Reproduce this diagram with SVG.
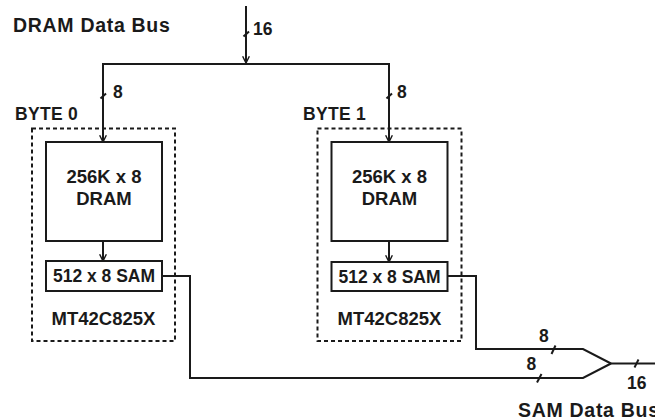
<svg xmlns="http://www.w3.org/2000/svg" width="655" height="420" viewBox="0 0 655 420">
  <defs>
    <marker id="arrow" viewBox="0 0 10 10" refX="9.5" refY="5" markerWidth="8" markerHeight="8" markerUnits="userSpaceOnUse" orient="auto">
      <path d="M1,0.8 L9.5,5 L1,9.2" fill="none" stroke="#1a1a1a" stroke-width="1.8"/>
    </marker>
    <style>
      .ln { fill: none; stroke: #1a1a1a; stroke-width: 2; }
      .tick { fill: none; stroke: #1a1a1a; stroke-width: 2; }
      .box { fill: #ffffff; stroke: #1a1a1a; stroke-width: 2; }
      .dash { fill: none; stroke: #1a1a1a; stroke-width: 2; stroke-dasharray: 4 3; }
      .t { font-family: "Liberation Sans", Arial, sans-serif; font-weight: bold; fill: #1a1a1a; }
      .big { font-size: 19.5px; letter-spacing: 0.7px; }
      .blk { font-size: 18.5px; text-anchor: middle; }
      .lbl { font-size: 17.5px; letter-spacing: 0.3px; }
      .num { font-size: 17.5px; }
    </style>
  </defs>
  <rect width="655" height="420" fill="#ffffff"/>

  <text class="t big" x="13" y="32">DRAM Data Bus</text>
  <text class="t big" x="518" y="417">SAM Data Bus</text>

  <g id="connectors">
    <line class="ln" x1="246" y1="6" x2="246" y2="63" marker-end="url(#arrow)"/>
    <line class="ln" x1="103" y1="64" x2="389" y2="64"/>
    <line class="ln" x1="103" y1="63" x2="103" y2="142" marker-end="url(#arrow)"/>
    <line class="ln" x1="389" y1="63" x2="389" y2="142" marker-end="url(#arrow)"/>
    <line class="ln" x1="103" y1="241" x2="103" y2="261" marker-end="url(#arrow)"/>
    <line class="ln" x1="389" y1="241" x2="389" y2="262" marker-end="url(#arrow)"/>
    <path class="ln" d="M162,276 H190 V378 H583 L611,363.5"/>
    <path class="ln" d="M447.5,276 H476 V349 H583 L611,363.5"/>
    <line class="ln" x1="611" y1="363.5" x2="655" y2="363.5"/>
    <!-- bus width ticks -->
    <line class="tick" x1="243.5" y1="36.5" x2="249" y2="31.5"/>
    <line class="tick" x1="100.5" y1="98.5" x2="106" y2="93.5"/>
    <line class="tick" x1="386.5" y1="98.5" x2="392" y2="93.5"/>
    <line class="tick" x1="551.5" y1="354" x2="555.5" y2="345.5"/>
    <line class="tick" x1="537" y1="382.5" x2="541.5" y2="374"/>
    <line class="tick" x1="634.5" y1="367.5" x2="638.5" y2="359.5"/>
    <text class="t num" x="253" y="35">16</text>
    <text class="t num" x="113" y="98">8</text>
    <text class="t num" x="397" y="98">8</text>
    <text class="t num" x="539" y="342">8</text>
    <text class="t num" x="526.5" y="370">8</text>
    <text class="t num" x="627" y="389">16</text>
  </g>

  <g id="byte0">
    <rect class="dash" x="32" y="128.5" width="143" height="212.5"/>
    <text class="t lbl" x="15" y="120">BYTE 0</text>
    <g id="dram0">
      <rect class="box" x="46" y="142" width="116" height="99"/>
      <text class="t blk" x="104" y="183">256K x 8</text>
      <text class="t blk" x="104" y="205">DRAM</text>
    </g>
    <g id="sam0">
      <rect class="box" x="46" y="261" width="116" height="30"/>
      <text class="t blk" x="104" y="282" style="font-size:17.5px">512 x 8 SAM</text>
    </g>
    <text class="t blk" x="103.5" y="325">MT42C825X</text>
  </g>

  <g id="byte1">
    <rect class="dash" x="317.5" y="128.5" width="144" height="212.5"/>
    <text class="t lbl" x="303" y="120">BYTE 1</text>
    <g id="dram1">
      <rect class="box" x="331.5" y="142" width="116" height="99"/>
      <text class="t blk" x="389.5" y="183">256K x 8</text>
      <text class="t blk" x="389.5" y="205">DRAM</text>
    </g>
    <g id="sam1">
      <rect class="box" x="331.5" y="262" width="116" height="29"/>
      <text class="t blk" x="389.5" y="282.5" style="font-size:17.5px">512 x 8 SAM</text>
    </g>
    <text class="t blk" x="389.5" y="325">MT42C825X</text>
  </g>
</svg>
